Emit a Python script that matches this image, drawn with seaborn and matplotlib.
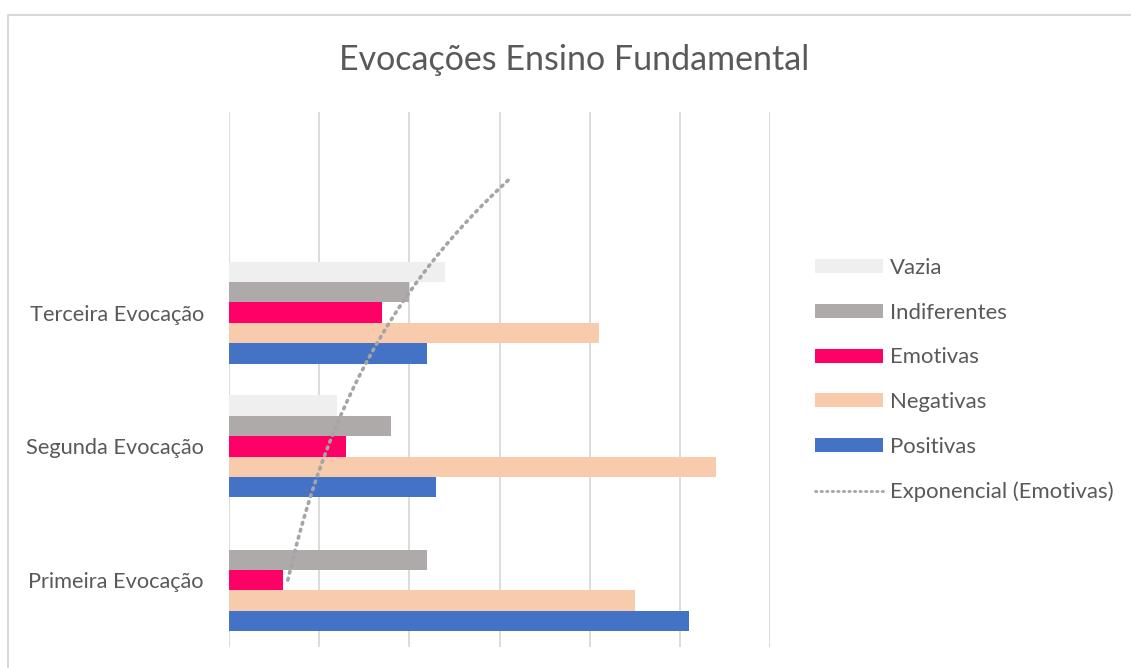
import numpy as np
import pandas as pd
import matplotlib
matplotlib.use("Agg")
import matplotlib.pyplot as plt
import seaborn as sns
from matplotlib.patches import Patch, Rectangle
from matplotlib.lines import Line2D

# ---- data (Primeira, Segunda, Terceira) ----
evocacoes = ["Primeira Evocação", "Segunda Evocação", "Terceira Evocação"]
positivas = [51, 23, 22]
negativas = [45, 54, 41]
emotivas = [6, 13, 17]
indiferentes = [22, 18, 20]
vazia = [0, 12, 24]

series_names = ["Vazia", "Indiferentes", "Emotivas", "Negativas", "Positivas"]
series_values = [vazia, indiferentes, emotivas, negativas, positivas]
series_colors = ["#EFEFEF", "#AEAAAA", "#FF0066", "#F8CBAD", "#4472C4"]
trend_label = "Exponencial (Emotivas)"
title = "Evocações Ensino Fundamental"

rows = []
for name, vals in zip(series_names, series_values):
    for ev, v in zip(evocacoes, vals):
        rows.append({"evocacao": ev, "tipo": name, "valor": v})
df = pd.DataFrame(rows)

FONT = ["Lato", "DejaVu Sans"]
plt.rcParams["font.family"] = FONT
TXT = "#595959"
GRID = "#D9D9D9"

W, H = 1131, 668
fig = plt.figure(figsize=(W / 100, H / 100), dpi=100)
ax = fig.add_axes([229 / W, (H - 647) / H, 541 / W, 535 / H])

order = evocacoes[::-1]  # Terceira on top
sns.barplot(data=df, x="valor", y="evocacao", hue="tipo", order=order,
            hue_order=series_names, palette=dict(zip(series_names, series_colors)),
            orient="h", width=0.762, errorbar=None, saturation=1, legend=False,
            ax=ax)

# exponential trendline for Emotivas (fit on category index 1..3, forecast 1)
t = np.arange(1, len(emotivas) + 1)
b, a = np.polyfit(t, np.log(emotivas), 1)
tt = np.linspace(1, len(emotivas) + 1, 200)
yy = np.exp(a + b * tt)
ax.plot(yy, len(emotivas) - tt, color="#A5A5A5", lw=2.6,
        linestyle=(0, (0.5, 1.5)), dash_capstyle="round", zorder=5)

ax.set_xlim(0, 60)
ax.set_ylim(2.5, -1.5)
ax.set_xticks(np.arange(0, 61, 10))
ax.xaxis.grid(True, color=GRID, lw=1.3)
ax.set_axisbelow(True)
for s in ax.spines.values():
    s.set_visible(False)
ax.tick_params(axis="x", length=0, labelbottom=False)
ax.tick_params(axis="y", length=0, pad=18, labelsize=15.7, labelcolor=TXT)
for lab in ax.get_yticklabels():
    lab.set_fontfamily(FONT)
ax.set_xlabel("")
ax.set_ylabel("")

fig.text(574 / W, (H - 70) / H, title, ha="center", va="baseline",
         fontsize=24.5, color=TXT)

handles = [Patch(facecolor=c, edgecolor="none", label=n)
           for n, c in zip(series_names, series_colors)]
handles.append(Line2D([0], [0], color="#A5A5A5", lw=2, linestyle=(0, (0.5, 1.5)),
                      dash_capstyle="round", label=trend_label))
fs = 15.9
fpx = fs * 100 / 72
leg = fig.legend(handles=handles, loc="center left",
                 bbox_to_anchor=(815 / W, (H - 380) / H), frameon=False,
                 fontsize=fs, labelcolor=TXT, handlelength=68 / fpx,
                 handleheight=13.3 / fpx, handletextpad=7 / fpx,
                 labelspacing=1.12, borderpad=0, borderaxespad=0)

fig.add_artist(Rectangle((7.5 / W, -0.2), 2, (H - 14.5) / H + 0.2,
                         transform=fig.transFigure, fill=False,
                         edgecolor=GRID, lw=1.5, clip_on=False))

fig.savefig("out.png", dpi=100, facecolor="white")
